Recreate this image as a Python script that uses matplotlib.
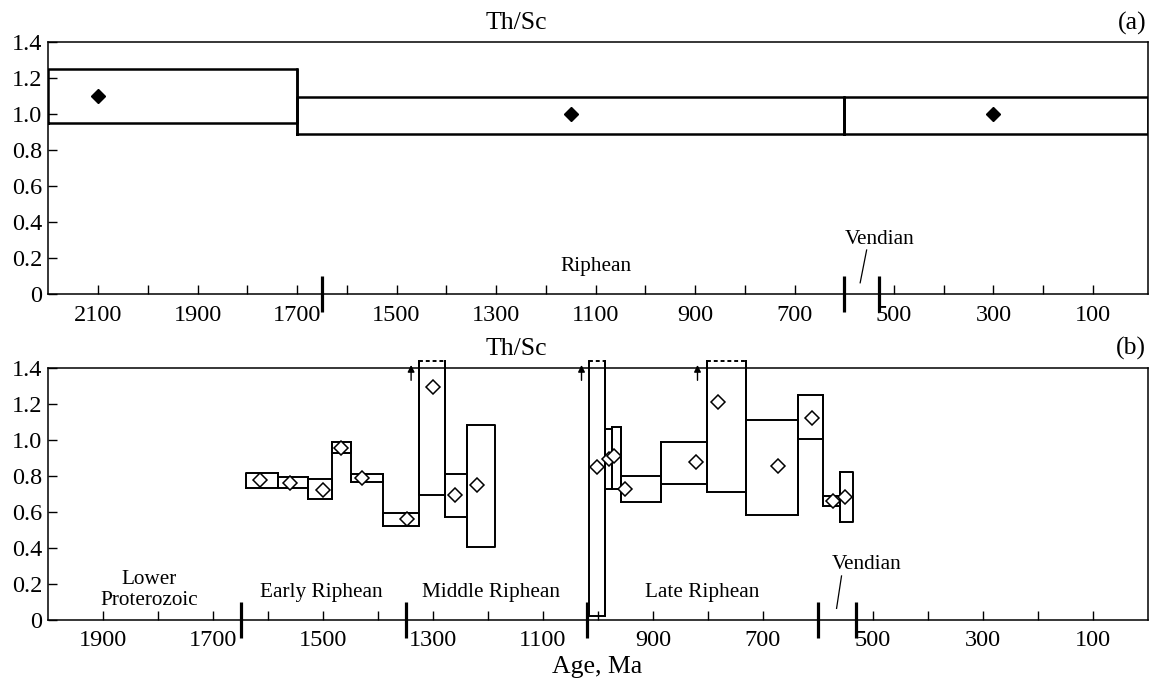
import numpy as np
import matplotlib
matplotlib.use("Agg")
import matplotlib.pyplot as plt

plt.rcParams["font.family"] = ["Liberation Serif", "DejaVu Serif"]

# ── panel (a): Th/Sc averaged by big intervals
A_LEFT  = [2200, 1700, 600]
A_RIGHT = [1700, 600, -10]
A_LOW   = [0.953, 0.889, 0.889]
A_HIGH  = [1.253, 1.094, 1.094]
A_AGE   = [2100, 1150, 300]
A_VAL   = [1.103, 1.0, 1.0]
A_BOUNDS = [1650, 600, 530]

# ── panel (b): Th/Sc by stratigraphic levels (nan = box open to the top)
B_LEFT  = [1640, 1583, 1528, 1484, 1450, 1391, 1325, 1279, 1239,
           1017, 988, 975, 959, 885, 801, 731, 637, 591, 560]
B_RIGHT = [1583, 1528, 1484, 1450, 1391, 1325, 1279, 1239, 1188,
           988, 975, 959, 885, 801, 731, 637, 591, 560, 537]
B_LOW   = [0.73, 0.73, 0.672, 0.926, 0.763, 0.52, 0.691, 0.569, 0.402,
           0.02, 0.726, 0.726, 0.654, 0.754, 0.709, 0.583, 1.006, 0.63, 0.541]
B_HIGH  = [0.815, 0.79, 0.78, 0.987, 0.811, 0.594, np.nan, 0.807, 1.083,
           np.nan, 1.057, 1.07, 0.796, 0.987, np.nan, 1.111, 1.25, 0.687, 0.819]
B_AGE   = [1614, 1560, 1500, 1468, 1430, 1348, 1300, 1261, 1220,
           1002, 980, 970, 951, 821, 782, 672, 610, 572, 550]
B_VAL   = [0.776, 0.76, 0.722, 0.956, 0.789, 0.561, 1.291, 0.694, 0.75,
           0.848, 0.894, 0.909, 0.728, 0.876, 1.209, 0.852, 1.119, 0.659, 0.681]
B_ARROWS = [1340, 1030, 819]
B_BOUNDS = [1650, 1350, 1020, 600, 530]

YTICKS = [0, 0.2, 0.4, 0.6, 0.8, 1.0, 1.2, 1.4]
YLABELS = ["0", "0.2", "0.4", "0.6", "0.8", "1.0", "1.2", "1.4"]

TICK_FS = 17.5
TITLE_FS = 18.5
PERIOD_FS = 15.3
OPEN_TOP = 1.437

fig = plt.figure(figsize=(11.52, 6.82), dpi=100)
ax_a = fig.add_axes([0.04193, 0.56848, 0.95434, 0.36950])
ax_b = fig.add_axes([0.04193, 0.09135, 0.95434, 0.36950])


def style_axes(ax, xmax, xmin):
    ax.set_xlim(xmax, xmin)
    ax.set_ylim(0, 1.4)
    ticks = list(range(100, int(xmax), 100))
    ax.set_xticks(ticks)
    ax.set_xticklabels([str(t) if (t // 100) % 2 == 1 else "" for t in ticks])
    ax.set_yticks(YTICKS)
    ax.set_yticklabels(YLABELS)
    ax.tick_params(axis="x", direction="in", length=6.5, width=1.0,
                   labelsize=TICK_FS, pad=7.5, top=False)
    ax.tick_params(axis="y", direction="in", length=6.5, width=1.0,
                   labelsize=TICK_FS, pad=4.5, right=False)
    for s in ax.spines.values():
        s.set_linewidth(1.1)


def boundary_ticks(ax, ages):
    for a in ages:
        ax.plot([a, a], [-0.1, 0.1], color="k", lw=2.3, clip_on=False,
                solid_capstyle="butt", zorder=5)


def draw_boxes(ax, left, right, low, high, lw):
    tops = [OPEN_TOP if np.isnan(h) else h for h in high]
    for x0, x1, lo, hi, top in zip(left, right, low, high, tops):
        if np.isnan(hi):
            ax.plot([x0, x0, x1, x1], [top, lo, lo, top], color="k",
                    lw=lw, clip_on=False, zorder=3)
            ax.plot([x0, x1], [top, top], color="k", lw=lw,
                    ls=(0, (2, 1.5)), clip_on=False, zorder=3)
        else:
            ax.plot([x0, x0, x1, x1, x0], [lo, hi, hi, lo, lo], color="k",
                    lw=lw, zorder=3)
    # step connectors between neighbouring boxes
    for i in range(len(left) - 1):
        if right[i] == left[i + 1]:
            y0 = min(low[i], low[i + 1])
            y1 = max(tops[i], tops[i + 1])
            ax.plot([right[i], right[i]], [y0, y1], color="k", lw=lw,
                    clip_on=False, zorder=3)


# ── (a)
style_axes(ax_a, 2200, -10)
draw_boxes(ax_a, A_LEFT, A_RIGHT, A_LOW, A_HIGH, 1.8)
ax_a.plot(A_AGE, A_VAL, ls="none", marker="D", ms=6.8, color="k", zorder=4)
boundary_ticks(ax_a, A_BOUNDS)
ax_a.text(1100, 0.131, "Riphean", ha="center", va="baseline", fontsize=PERIOD_FS)
ax_a.text(528, 0.279, "Vendian", ha="center", va="baseline", fontsize=PERIOD_FS)
ax_a.plot([555, 568], [0.246, 0.064], color="k", lw=0.9)
ax_a.text(0.426, 1.052, "Th/Sc", transform=ax_a.transAxes, ha="center",
          va="baseline", fontsize=TITLE_FS)
ax_a.text(0.9985, 1.052, "(a)", transform=ax_a.transAxes, ha="right",
          va="baseline", fontsize=TITLE_FS)

# ── (b)
style_axes(ax_b, 2000, 0)
draw_boxes(ax_b, B_LEFT, B_RIGHT, B_LOW, B_HIGH, 1.4)
ax_b.plot(B_AGE, B_VAL, ls="none", marker="D", ms=7.0, mfc="white",
          mec="k", mew=1.1, zorder=4, clip_on=False)
for a in B_ARROWS:
    ax_b.annotate("", xy=(a, 1.415), xytext=(a, 1.33),
                  arrowprops=dict(arrowstyle="-|>", lw=1.0, color="k",
                                  mutation_scale=10, shrinkA=0, shrinkB=0),
                  annotation_clip=False)
boundary_ticks(ax_b, B_BOUNDS)
ax_b.text(1817, 0.198, "Lower", ha="center", va="baseline", fontsize=PERIOD_FS)
ax_b.text(1817, 0.084, "Proterozoic", ha="center", va="baseline", fontsize=PERIOD_FS)
ax_b.text(1504, 0.128, "Early Riphean", ha="center", va="baseline", fontsize=PERIOD_FS)
ax_b.text(1194, 0.128, "Middle Riphean", ha="center", va="baseline", fontsize=PERIOD_FS)
ax_b.text(810, 0.128, "Late Riphean", ha="center", va="baseline", fontsize=PERIOD_FS)
ax_b.text(512, 0.282, "Vendian", ha="center", va="baseline", fontsize=PERIOD_FS)
ax_b.plot([557, 566], [0.243, 0.063], color="k", lw=0.9)
ax_b.text(0.426, 1.052, "Th/Sc", transform=ax_b.transAxes, ha="center",
          va="baseline", fontsize=TITLE_FS)
ax_b.text(0.9985, 1.052, "(b)", transform=ax_b.transAxes, ha="right",
          va="baseline", fontsize=TITLE_FS)

fig.text(597 / 1152, 1 - 673 / 682, "Age, Ma", ha="center", va="baseline",
         fontsize=TITLE_FS)

fig.savefig("out.png", dpi=100)
